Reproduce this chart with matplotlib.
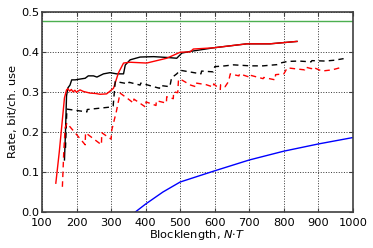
import matplotlib
matplotlib.use("Agg")
import matplotlib.pyplot as plt

# Capacity-like bound (green)
green_x = [100, 1000]
green_y = [0.477, 0.477]

# Blue curve
blue_x = [370, 400, 450, 500, 600, 700, 800, 900, 1000]
blue_y = [0.0, 0.02, 0.05, 0.075, 0.103, 0.13, 0.152, 0.17, 0.186]

# Black solid
ks_x = [165, 168, 171, 175, 181, 186, 196, 210, 225, 234, 249, 259, 278, 297, 316, 336, 341,
        355, 384, 423, 461, 490, 505, 529, 596, 693, 760, 838]
ks_y = [0.13, 0.2, 0.29, 0.31, 0.317, 0.33, 0.33, 0.332, 0.334, 0.34, 0.34, 0.337, 0.345, 0.348,
        0.345, 0.345, 0.367, 0.38, 0.387, 0.388, 0.386, 0.384, 0.397, 0.401, 0.41, 0.42, 0.42, 0.426]

# Red solid
rs_x = [140, 150, 160, 165, 171, 175, 180, 185, 190, 195, 200, 210, 220, 239, 255, 268, 287,
        307, 321, 336, 355, 403, 461, 500, 529, 538, 596, 693, 760, 838]
rs_y = [0.072, 0.15, 0.24, 0.285, 0.305, 0.308, 0.302, 0.306, 0.300, 0.304, 0.299, 0.305, 0.301,
        0.297, 0.296, 0.294, 0.295, 0.309, 0.347, 0.372, 0.374, 0.372, 0.384, 0.399, 0.40, 0.407,
        0.41, 0.42, 0.42, 0.426]

# Black dashed
kd_x = [168, 172, 230, 231, 297, 306, 312, 350, 352, 384, 386, 440, 442, 470, 475, 490, 500,
        540, 560, 562, 596, 600, 630, 654, 703, 740, 780, 790, 810, 843, 879, 881, 920, 946, 973]
kd_y = [0.16, 0.257, 0.25, 0.256, 0.262, 0.265, 0.326, 0.32, 0.324, 0.317, 0.322, 0.309, 0.316,
        0.313, 0.335, 0.345, 0.354, 0.348, 0.345, 0.352, 0.35, 0.363, 0.365, 0.3675, 0.365, 0.365,
        0.368, 0.372, 0.376, 0.377, 0.375, 0.378, 0.377, 0.379, 0.383]

# Red dashed
rd_x = [159, 163, 167, 172, 225, 226, 272, 273, 300, 302, 315, 326, 350, 365, 366, 400, 401,
        430, 431, 460, 461, 480, 481, 493, 495, 500, 530, 545, 546, 575, 596, 597, 616, 617, 630,
        640, 645, 670, 672, 700, 701, 740, 742, 775, 776, 800, 810, 860, 862, 880, 883, 910, 940, 970]
rd_y = [0.063, 0.15, 0.21, 0.222, 0.168, 0.198, 0.168, 0.198, 0.182, 0.205, 0.25, 0.297, 0.282,
        0.272, 0.282, 0.262, 0.275, 0.266, 0.278, 0.272, 0.288, 0.283, 0.30, 0.298, 0.33, 0.332,
        0.317, 0.313, 0.322, 0.318, 0.312, 0.320, 0.306, 0.318, 0.313, 0.326, 0.345, 0.34, 0.345,
        0.337, 0.342, 0.333, 0.336, 0.33, 0.343, 0.345, 0.36, 0.355, 0.362, 0.358, 0.362, 0.352,
        0.355, 0.362]

fig = plt.figure(figsize=(3.73, 2.48), dpi=100)
ax = fig.add_axes([0.1126, 0.145, 0.8336, 0.8075])

ax.plot(green_x, green_y, color="#4caf50", lw=1.0)
ax.plot(blue_x, blue_y, color="#0000ff", lw=1.0)
ax.plot(ks_x, ks_y, color="black", lw=1.0)
ax.plot(rs_x, rs_y, color="red", lw=1.0)
ax.plot(kd_x, kd_y, color="black", lw=1.0, dashes=(4, 3))
ax.plot(rd_x, rd_y, color="red", lw=1.0, dashes=(4, 3))

ax.set_xlim(100, 1000)
ax.set_ylim(0, 0.5)
ax.set_xticks(range(100, 1001, 100))
ax.set_yticks([0.0, 0.1, 0.2, 0.3, 0.4, 0.5])
ax.set_yticklabels(["0.0", "0.1", "0.2", "0.3", "0.4", "0.5"])
ax.grid(True, color="#333333", linestyle=":", linewidth=0.7)
ax.tick_params(direction="in", labelsize=8.2, length=3, top=True, right=True,
               color="#404040")
ax.tick_params(axis="x", pad=4)
ax.tick_params(axis="y", pad=2)
for s in ax.spines.values():
    s.set_linewidth(1.2)
    s.set_color("#404040")
ax.set_xlabel(r"Blocklength, $N{\cdot}T$", fontsize=8.2, labelpad=0)
ax.set_ylabel("Rate, bit/ch. use", fontsize=8.2, labelpad=2)

fig.savefig("out.png", dpi=100)
